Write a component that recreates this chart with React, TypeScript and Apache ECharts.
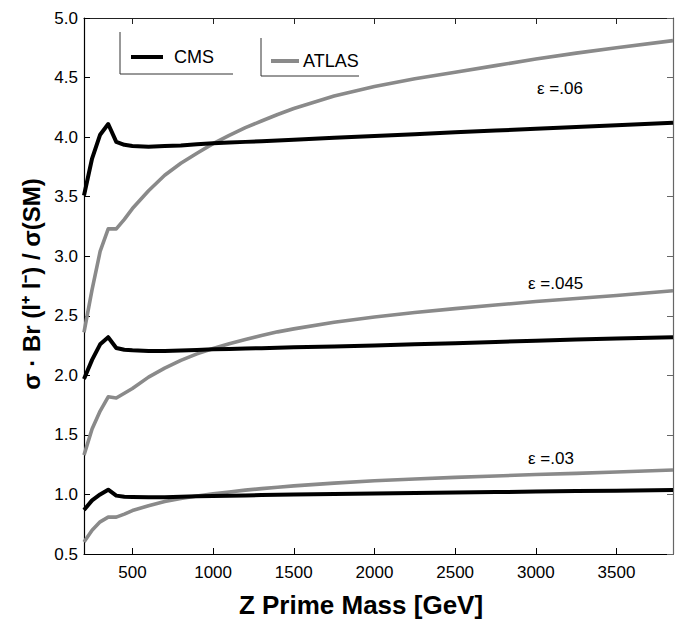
import React, { useEffect, useRef } from "react";
import * as echarts from "echarts";

const mass = [200, 250, 300, 350, 400, 450, 500, 600, 700, 800, 900, 1000, 1100, 1200, 1300, 1400, 1500, 1750, 2000, 2250, 2500, 2750, 3000, 3250, 3500, 3850];

const cms06 = [3.51, 3.82, 4.02, 4.11, 3.96, 3.935, 3.925, 3.92, 3.925, 3.93, 3.94, 3.948, 3.954, 3.96, 3.966, 3.972, 3.978, 3.994, 4.01, 4.025, 4.04, 4.055, 4.07, 4.085, 4.1, 4.12];
const atlas06 = [2.36, 2.72, 3.04, 3.23, 3.23, 3.31, 3.4, 3.55, 3.68, 3.78, 3.865, 3.945, 4.015, 4.08, 4.135, 4.19, 4.24, 4.345, 4.425, 4.49, 4.545, 4.6, 4.655, 4.705, 4.75, 4.81];

const cms045 = [1.97, 2.13, 2.26, 2.32, 2.23, 2.215, 2.21, 2.205, 2.205, 2.208, 2.213, 2.218, 2.222, 2.225, 2.228, 2.231, 2.235, 2.243, 2.251, 2.26, 2.27, 2.28, 2.29, 2.3, 2.31, 2.32];
const atlas045 = [1.33, 1.55, 1.7, 1.82, 1.81, 1.85, 1.89, 1.985, 2.06, 2.125, 2.18, 2.225, 2.265, 2.3, 2.335, 2.365, 2.39, 2.445, 2.49, 2.527, 2.56, 2.59, 2.62, 2.645, 2.67, 2.71];

const cms03 = [0.87, 0.95, 1.0, 1.04, 0.99, 0.98, 0.978, 0.976, 0.977, 0.98, 0.984, 0.987, 0.99, 0.992, 0.995, 0.997, 1.0, 1.003, 1.007, 1.012, 1.016, 1.02, 1.024, 1.028, 1.032, 1.037];
const atlas03 = [0.6, 0.7, 0.77, 0.81, 0.81, 0.835, 0.865, 0.905, 0.94, 0.966, 0.987, 1.005, 1.021, 1.036, 1.049, 1.061, 1.072, 1.095, 1.115, 1.13, 1.143, 1.155, 1.167, 1.177, 1.188, 1.205];

const xTicks = [500, 1000, 1500, 2000, 2500, 3000, 3500];
const epsLabels = ["ε =.06", "ε =.045", "ε =.03"];
const legendNames = ["CMS", "ATLAS"];

const FONT = "'Liberation Sans', Arial, Helvetica, sans-serif";
const BLACK = "#000000";
const GRAY = "#8a8a8a";

export default function App() {
  const ref = useRef<HTMLDivElement>(null);

  useEffect(() => {
    document.body.style.margin = "0";
    const chart = echarts.init(ref.current!, null, { renderer: "svg" });
    const pair = (ys: number[]) => mass.map((m, i) => [m, ys[i]]);

    const mkSeries = (name: string, ys: number[], color: string, width: number) => ({
      name,
      type: "line",
      data: pair(ys),
      showSymbol: false,
      symbol: "none",
      smooth: false,
      xAxisIndex: 0,
      yAxisIndex: 0,
      lineStyle: { color, width, join: "round" },
      itemStyle: { color },
      z: color === BLACK ? 3 : 2,
    });

    const xCommon = {
      type: "value",
      min: 200,
      max: 3850,
      splitLine: { show: false },
    };
    const yCommon = {
      type: "value",
      min: 0.5,
      max: 5,
      interval: 0.5,
      splitLine: { show: false },
    };

    const option: any = {
      animation: false,
      backgroundColor: "#ffffff",
      grid: { left: 84, right: 8, top: 18, bottom: 73 },
      xAxis: [
        {
          ...xCommon,
          position: "bottom",
          axisLine: { show: true, onZero: false, lineStyle: { color: "#000", width: 1.2 } },
          axisTick: { show: true, inside: true, length: 6, customValues: xTicks, lineStyle: { color: "#000" } },
          axisLabel: {
            customValues: xTicks,
            fontSize: 17,
            color: "#000",
            fontFamily: FONT,
            margin: 10,
            formatter: (v: number) => String(v),
          },
        },
        {
          ...xCommon,
          position: "top",
          axisLine: { show: true, onZero: false, lineStyle: { color: "#222", width: 1.2 } },
          axisTick: { show: true, inside: true, length: 6, customValues: xTicks, lineStyle: { color: "#222" } },
          axisLabel: { show: false },
        },
      ],
      yAxis: [
        {
          ...yCommon,
          position: "left",
          axisLine: { show: true, onZero: false, lineStyle: { color: "#000", width: 1.2 } },
          axisTick: { show: true, inside: true, length: 6, lineStyle: { color: "#000" } },
          axisLabel: {
            fontSize: 17,
            color: "#000",
            fontFamily: FONT,
            margin: 6,
            formatter: (v: number) => v.toFixed(1),
          },
        },
        {
          ...yCommon,
          position: "right",
          axisLine: { show: true, onZero: false, lineStyle: { color: "#666", width: 1.2 } },
          axisTick: { show: true, inside: true, length: 6, lineStyle: { color: "#666" } },
          axisLabel: { show: false },
        },
      ],
      series: [
        mkSeries("ATLAS .06", atlas06, GRAY, 3.6),
        mkSeries("ATLAS .045", atlas045, GRAY, 3.6),
        mkSeries("ATLAS .03", atlas03, GRAY, 3.6),
        mkSeries("CMS .06", cms06, BLACK, 4),
        mkSeries("CMS .045", cms045, BLACK, 4),
        mkSeries("CMS .03", cms03, BLACK, 4),
      ],
      graphic: [
        // legend boxes
        { type: "line", shape: { x1: 120, y1: 32, x2: 120, y2: 74 }, style: { stroke: "#333", lineWidth: 1 } },
        { type: "line", shape: { x1: 120, y1: 74, x2: 233, y2: 74 }, style: { stroke: "#333", lineWidth: 1 } },
        { type: "line", shape: { x1: 131, y1: 57, x2: 163, y2: 57 }, style: { stroke: BLACK, lineWidth: 4 } },
        { type: "text", x: 174, y: 57, style: { text: legendNames[0], font: `18px ${FONT}`, fill: "#000", align: "left", verticalAlign: "middle" } },
        { type: "line", shape: { x1: 261, y1: 38, x2: 261, y2: 76 }, style: { stroke: "#333", lineWidth: 1 } },
        { type: "line", shape: { x1: 261, y1: 76, x2: 359, y2: 76 }, style: { stroke: "#333", lineWidth: 1 } },
        { type: "line", shape: { x1: 271, y1: 61, x2: 299, y2: 61 }, style: { stroke: GRAY, lineWidth: 4 } },
        { type: "text", x: 303, y: 61, style: { text: legendNames[1], font: `18px ${FONT}`, fill: "#000", align: "left", verticalAlign: "middle" } },
        // epsilon labels
        { type: "text", x: 537, y: 88, style: { text: epsLabels[0], font: `17px ${FONT}`, fill: "#000", align: "left", verticalAlign: "middle" } },
        { type: "text", x: 528, y: 283, style: { text: epsLabels[1], font: `17px ${FONT}`, fill: "#000", align: "left", verticalAlign: "middle" } },
        { type: "text", x: 528, y: 458, style: { text: epsLabels[2], font: `17px ${FONT}`, fill: "#000", align: "left", verticalAlign: "middle" } },
        // axis titles
        { type: "text", x: 361, y: 605, style: { text: "Z Prime Mass [GeV]", font: `bold 26px ${FONT}`, fill: "#000", align: "center", verticalAlign: "middle" } },
        {
          type: "text",
          x: 31,
          y: 284,
          rotation: Math.PI / 2,
          style: { text: "σ · Br (l⁺ l⁻) / σ(SM)", font: `bold 24px ${FONT}`, fill: "#000", align: "center", verticalAlign: "middle" },
        },
      ],
    };

    chart.setOption(option);
    return () => chart.dispose();
  }, []);

  return <div ref={ref} style={{ width: 681, height: 627 }} />;
}
